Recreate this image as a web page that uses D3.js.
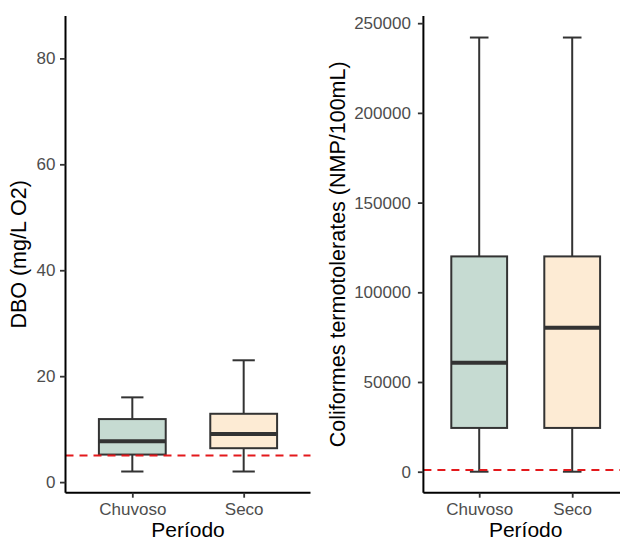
<!DOCTYPE html>
<html>
<head>
<meta charset="utf-8">
<script src="https://cdn.jsdelivr.net/npm/d3@7"></script>
<style>
  body { margin: 0; background: #fff; }
  svg { display: block; font-family: "Liberation Sans", Arial, sans-serif; }
</style>
</head>
<body>
<div id="chart"></div>
<script>
// Categories
const periods = ["Chuvoso", "Seco"];
const fills = ["#c6dbd2", "#fdebd4"];

// DBO (mg/L O2) box stats
const dboMin = [2, 2];
const dboQ1 = [5.2, 6.4];
const dboMed = [7.7, 9.1];
const dboQ3 = [11.9, 12.9];
const dboMax = [16, 23];
const dboTicks = [0, 20, 40, 60, 80];
const dboDomain = [-2, 88];
const dboLimit = 5;

// Coliformes termotolerantes box stats
const colMin = [0, 0];
const colQ1 = [24400, 24400];
const colMed = [60800, 80300];
const colQ3 = [120000, 120000];
const colMax = [242000, 242000];
const colTicks = [0, 50000, 100000, 150000, 200000, 250000];
const colDomain = [-11700, 254000];
const colLimit = 1000;

const width = 620, height = 542;

const svg = d3.select("#chart")
    .append("svg")
    .attr("width", width)
    .attr("height", height);

function drawPanel(p) {
    const g = svg.append("g");

    const x = d3.scalePoint()
        .domain(periods)
        .range([p.x0, p.x1])
        .padding(0.6);
    const step = x.step();

    const y = d3.scaleLinear()
        .domain(p.domain)
        .range([p.y1, p.y0]);

    const boxW = step * 0.6, capW = step * 0.2;

    const rows = periods.map((k, i) => ({
        k: k, fill: fills[i],
        min: p.min[i], q1: p.q1[i], med: p.med[i], q3: p.q3[i], max: p.max[i]
    }));

    const box = g.selectAll(".box")
        .data(rows)
        .enter()
        .append("g")
        .attr("class", "box");

    // whiskers
    box.append("line")
        .attr("x1", d => x(d.k)).attr("x2", d => x(d.k))
        .attr("y1", d => y(d.q3)).attr("y2", d => y(d.max))
        .attr("stroke", "#333").attr("stroke-width", 2);
    box.append("line")
        .attr("x1", d => x(d.k)).attr("x2", d => x(d.k))
        .attr("y1", d => y(d.q1)).attr("y2", d => y(d.min))
        .attr("stroke", "#333").attr("stroke-width", 2);
    // caps
    ["max", "min"].forEach(function (key) {
        box.append("line")
            .attr("x1", d => x(d.k) - capW / 2).attr("x2", d => x(d.k) + capW / 2)
            .attr("y1", d => y(d[key])).attr("y2", d => y(d[key]))
            .attr("stroke", "#333").attr("stroke-width", 2);
    });

    box.append("rect")
        .attr("x", d => x(d.k) - boxW / 2)
        .attr("width", boxW)
        .attr("y", d => y(d.q3))
        .attr("height", d => y(d.q1) - y(d.q3))
        .attr("fill", d => d.fill)
        .attr("stroke", "#333")
        .attr("stroke-width", 2);

    box.append("line")
        .attr("x1", d => x(d.k) - boxW / 2).attr("x2", d => x(d.k) + boxW / 2)
        .attr("y1", d => y(d.med)).attr("y2", d => y(d.med))
        .attr("stroke", "#333").attr("stroke-width", 4);

    // reference limit
    g.append("line")
        .attr("x1", p.x0).attr("x2", p.x1)
        .attr("y1", y(p.limit)).attr("y2", y(p.limit))
        .attr("stroke", "#e3191c")
        .attr("stroke-width", 2)
        .attr("stroke-dasharray", "8,6");

    // axes
    const yAxis = g.append("g")
        .attr("transform", "translate(" + p.x0 + ",0)")
        .call(d3.axisLeft(y).tickValues(p.ticks).tickSize(5.5).tickPadding(p.pad).tickFormat(d3.format("d")));
    const xAxis = g.append("g")
        .attr("transform", "translate(0," + p.y1 + ")")
        .call(d3.axisBottom(x).tickSize(5).tickPadding(5));

    [yAxis, xAxis].forEach(function (a) {
        a.select(".domain").attr("stroke", "#000").attr("stroke-width", 2);
        a.selectAll(".tick line").attr("stroke", "#333").attr("stroke-width", 1.8);
        a.selectAll(".tick text")
            .attr("fill", "#4d4d4d")
            .style("font-size", "17px")
            .style("font-family", "'Liberation Sans', Arial, sans-serif");
    });
    // remove outer ticks of domain path
    yAxis.select(".domain").attr("d", "M0," + p.y1 + "V" + p.y0);
    xAxis.select(".domain").attr("d", "M" + p.x0 + ",0H" + p.x1);

    g.append("text")
        .attr("x", (p.x0 + p.x1) / 2)
        .attr("y", 537)
        .attr("text-anchor", "middle")
        .style("font-size", "21px")
        .attr("fill", "#000")
        .text("Período");

    g.append("text")
        .attr("transform", "translate(" + p.titleX + "," + ((p.y0 + p.y1) / 2) + ") rotate(-90)")
        .attr("text-anchor", "middle")
        .style("font-size", "21.5px")
        .attr("fill", "#000")
        .text(p.title);
}

drawPanel({
    x0: 65.5, x1: 310.5, y0: 16, y1: 492.7, pad: 4.5,
    domain: dboDomain, ticks: dboTicks, limit: dboLimit,
    min: dboMin, q1: dboQ1, med: dboMed, q3: dboQ3, max: dboMax,
    title: "DBO (mg/L O2)", titleX: 26
});

drawPanel({
    x0: 423.4, x1: 628, y0: 16, y1: 492.7, pad: 7,
    domain: colDomain, ticks: colTicks, limit: colLimit,
    min: colMin, q1: colQ1, med: colMed, q3: colQ3, max: colMax,
    title: "Coliformes termotolerates (NMP/100mL)", titleX: 345
});
</script>
</body>
</html>
